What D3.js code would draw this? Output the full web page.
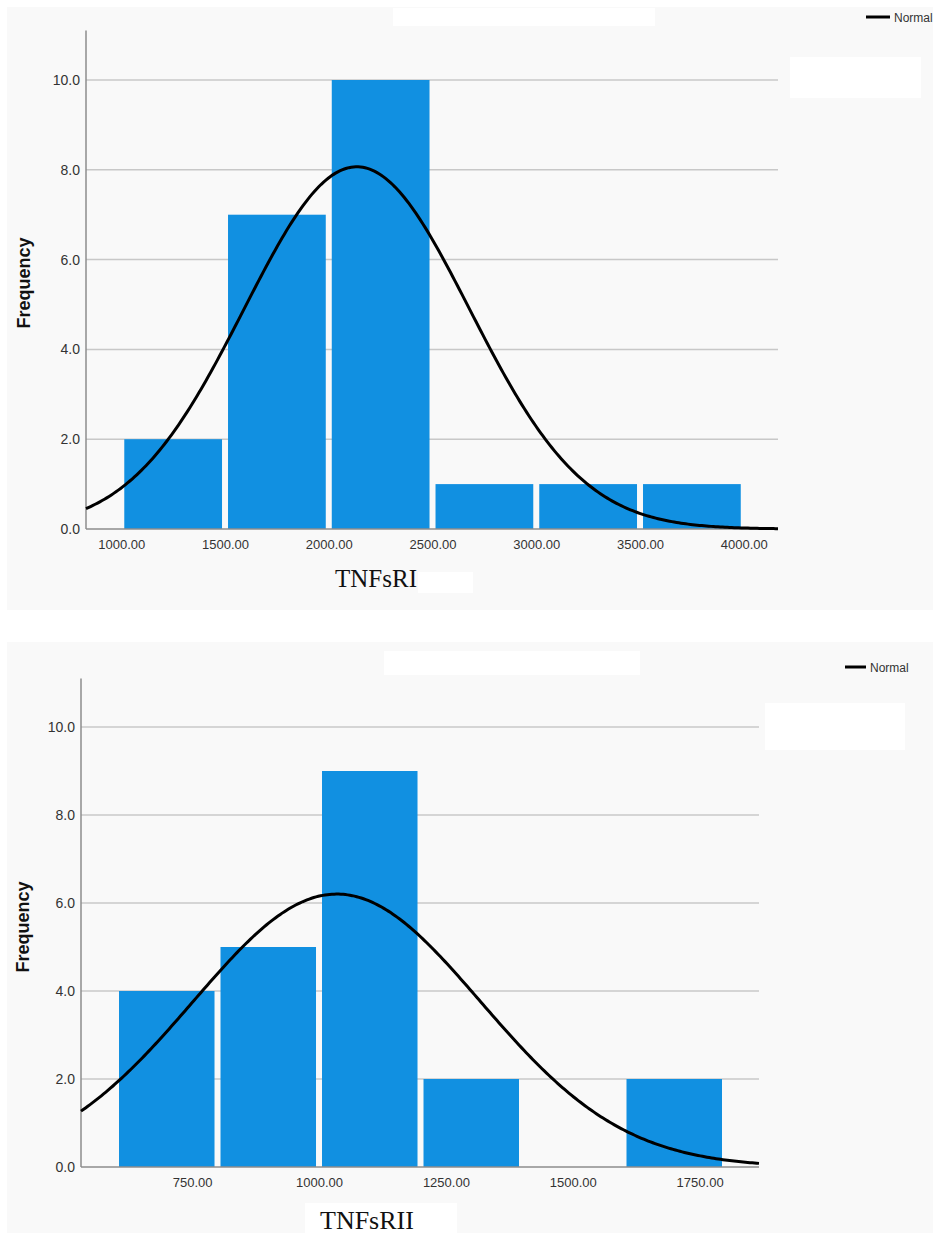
<!DOCTYPE html>
<html>
<head>
<meta charset="utf-8">
<script src="https://cdn.jsdelivr.net/npm/d3@7"></script>
<style>
  body { margin: 0; background: #fff; }
  svg { display: block; }
</style>
</head>
<body>
<div id="chart"></div>
<script>
// ---- data ----
const yTicks = [0, 2, 4, 6, 8, 10];

// TNFsRI
const edges1 = [1000, 1500, 2000, 2500, 3000, 3500, 4000];
const counts1 = [2, 7, 10, 1, 1, 1];
const xTicks1 = [1000, 1500, 2000, 2500, 3000, 3500, 4000];
const mean1 = 2135, sd1 = 544, n1 = 22;

// TNFsRII
const edges2 = [600, 800, 1000, 1200, 1400, 1600, 1800];
const counts2 = [4, 5, 9, 2, 0, 2];
const xTicks2 = [750, 1000, 1250, 1500, 1750];
const mean2 = 1035, sd2 = 283, n2 = 22;

const W = 933, H = 1235;
const BAR = "#1190e1";

const svg = d3.select("#chart").append("svg")
    .attr("width", W)
    .attr("height", H);

svg.append("rect").attr("width", W).attr("height", H).attr("fill", "#fff");

function drawHistogram(opts) {
    const g = svg.append("g");

    // panel background
    g.append("rect")
        .attr("x", opts.panel[0]).attr("y", opts.panel[1])
        .attr("width", opts.panel[2]).attr("height", opts.panel[3])
        .attr("fill", "#f9f9f9");

    const x = d3.scaleLinear().domain(opts.xDomain).range([opts.left, opts.right]);
    const y = d3.scaleLinear().domain([0, 10]).range([opts.bottom, opts.top10]);

    // gridlines
    g.selectAll(".grid")
        .data(yTicks.filter(d => d > 0))
        .enter().append("line")
        .attr("x1", opts.left).attr("x2", opts.right)
        .attr("y1", d => y(d)).attr("y2", d => y(d))
        .attr("stroke", "#c8c8c8")
        .attr("stroke-width", 1.5);

    // bars
    const bins = opts.counts.map((c, i) => ({ x0: opts.edges[i], x1: opts.edges[i + 1], c }));
    g.selectAll(".bar")
        .data(bins.filter(d => d.c > 0))
        .enter().append("rect")
        .attr("x", d => x(d.x0) + 3)
        .attr("width", d => x(d.x1) - x(d.x0) - 6)
        .attr("y", d => y(d.c))
        .attr("height", d => y(0) - y(d.c))
        .attr("fill", BAR);

    // axis lines
    g.append("line")
        .attr("x1", opts.left).attr("x2", opts.left)
        .attr("y1", y(11.1)).attr("y2", y(0))
        .attr("stroke", "#8c8c8c").attr("stroke-width", 1.5);
    g.append("line")
        .attr("x1", opts.left).attr("x2", opts.right)
        .attr("y1", y(0)).attr("y2", y(0))
        .attr("stroke", "#8c8c8c").attr("stroke-width", 1.5);

    // y axis labels
    const ya = g.append("g")
        .attr("transform", `translate(${opts.left},0)`)
        .call(d3.axisLeft(y).tickValues(yTicks).tickSize(0).tickPadding(6)
            .tickFormat(d3.format(".1f")));
    ya.select(".domain").remove();
    ya.selectAll("text")
        .attr("fill", "#333")
        .style("font-family", "Liberation Sans, Arial, sans-serif")
        .style("font-size", "14px");

    // x axis labels
    const xa = g.append("g")
        .attr("transform", `translate(0,${y(0)})`)
        .call(d3.axisBottom(x).tickValues(opts.xTicks).tickSize(0).tickPadding(11)
            .tickFormat(d3.format(".2f")));
    xa.select(".domain").remove();
    xa.selectAll("text")
        .attr("fill", "#333")
        .style("font-family", "Liberation Sans, Arial, sans-serif")
        .style("font-size", "13px");

    // normal curve
    const xs = d3.range(opts.xDomain[0], opts.xDomain[1], (opts.xDomain[1] - opts.xDomain[0]) / 300)
        .concat([opts.xDomain[1]]);
    const bw = opts.edges[1] - opts.edges[0];
    const dens = v => opts.n * bw / (opts.sd * Math.sqrt(2 * Math.PI)) *
        Math.exp(-0.5 * Math.pow((v - opts.mean) / opts.sd, 2));
    g.append("path")
        .datum(xs)
        .attr("d", d3.line().x(d => x(d)).y(d => y(dens(d))))
        .attr("fill", "none")
        .attr("stroke", "#000")
        .attr("stroke-width", 3);

    // y title
    g.append("text")
        .attr("transform", `translate(${opts.yTitle[0]},${opts.yTitle[1]}) rotate(-90)`)
        .attr("text-anchor", "middle")
        .style("font-family", "Liberation Sans, Arial, sans-serif")
        .style("font-weight", "bold")
        .style("font-size", "18px")
        .attr("fill", "#111")
        .text("Frequency");

    // white masks
    opts.masks.forEach(m => {
        g.append("rect")
            .attr("x", m[0]).attr("y", m[1]).attr("width", m[2]).attr("height", m[3])
            .attr("fill", "#fff");
    });

    // x title
    g.append("text")
        .attr("x", opts.xTitle[0]).attr("y", opts.xTitle[1])
        .style("font-family", "Liberation Serif, Times New Roman, serif")
        .style("font-size", opts.xTitle[2] + "px")
        .attr("fill", "#111")
        .text(opts.title);

    // legend
    g.append("line")
        .attr("x1", opts.legend[0]).attr("x2", opts.legend[0] + opts.legend[2])
        .attr("y1", opts.legend[1]).attr("y2", opts.legend[1])
        .attr("stroke", "#000").attr("stroke-width", 3);
    g.append("text")
        .attr("x", opts.legend[0] + opts.legend[2] + 4)
        .attr("y", opts.legend[1] + 5)
        .style("font-family", "Liberation Sans, Arial, sans-serif")
        .style("font-size", "12px")
        .attr("fill", "#333")
        .text("Normal");
}

drawHistogram({
    panel: [7, 7, 926, 603],
    xDomain: [830, 4165], left: 86, right: 778,
    bottom: 529, top10: 80,
    edges: edges1, counts: counts1, xTicks: xTicks1,
    mean: mean1, sd: sd1, n: n1,
    yTitle: [30, 283],
    xTitle: [335, 587, 25], title: "TNFsRI",
    legend: [866, 17, 24],
    masks: [[393, 8, 262, 18], [790, 57, 131, 41], [418, 572, 55, 21]]
});

drawHistogram({
    panel: [7, 642, 926, 591],
    xDomain: [531, 1867], left: 81, right: 759,
    bottom: 1167, top10: 727,
    edges: edges2, counts: counts2, xTicks: xTicks2,
    mean: mean2, sd: sd2, n: n2,
    yTitle: [29, 927],
    xTitle: [320, 1229, 26], title: "TNFsRII",
    legend: [845, 667, 21],
    masks: [[384, 651, 256, 24], [765, 703, 140, 47], [305, 1203, 152, 32]]
});
</script>
</body>
</html>
